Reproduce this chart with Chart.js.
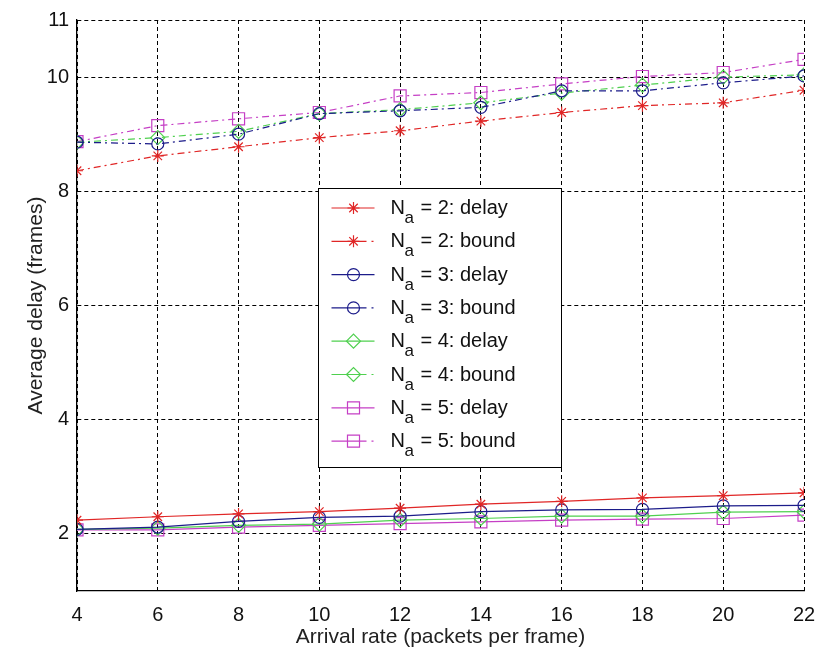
<!DOCTYPE html>
<html>
<head>
<meta charset="utf-8">
<script src="https://cdn.jsdelivr.net/npm/chart.js@4/dist/chart.umd.min.js"></script>
<style>
  html, body { margin: 0; padding: 0; background: #fff; }
  #wrap { width: 815px; height: 653px; position: relative; }
</style>
</head>
<body>
<div id="wrap"><canvas id="c"></canvas></div>
<script>
// Arrival rate (packets per frame)
const arrivalRates = [4, 6, 8, 10, 12, 14, 16, 18, 20, 22];
const yTickValues = [2, 4, 6, 8, 10, 11];

// Simulated average delay and analytical bound, per number of antennas N_a
const delayN2 = [2.24, 2.30, 2.35, 2.39, 2.45, 2.52, 2.57, 2.63, 2.67, 2.72];
const boundN2 = [8.36, 8.62, 8.78, 8.94, 9.06, 9.23, 9.38, 9.50, 9.55, 9.77];
const delayN3 = [2.08, 2.12, 2.22, 2.29, 2.31, 2.39, 2.42, 2.43, 2.49, 2.50];
const boundN3 = [8.86, 8.83, 9.00, 9.36, 9.41, 9.47, 9.76, 9.76, 9.90, 10.02];
const delayN4 = [2.08, 2.10, 2.15, 2.17, 2.24, 2.27, 2.31, 2.31, 2.38, 2.39];
const boundN4 = [8.86, 8.94, 9.05, 9.36, 9.43, 9.55, 9.72, 9.86, 10.00, 10.04];
const delayN5 = [2.07, 2.07, 2.12, 2.15, 2.18, 2.21, 2.24, 2.26, 2.27, 2.33];
const boundN5 = [8.87, 9.15, 9.27, 9.38, 9.67, 9.73, 9.88, 10.01, 10.08, 10.31];

const seriesNa = ['2', '2', '3', '3', '4', '4', '5', '5'];
const seriesKind = ['delay', 'bound', 'delay', 'bound', 'delay', 'bound', 'delay', 'bound'];
const seriesValues = [delayN2, boundN2, delayN3, boundN3, delayN4, boundN4, delayN5, boundN5];

const colors = { '2': '#e02626', '3': '#1c1c8a', '4': '#4fd04f', '5': '#c53fc5' };
const markers = { '2': 'star', '3': 'circle', '4': 'rectRot', '5': 'rect' };
const markerRadius = { '2': 6, '3': 6, '4': 7, '5': 8.5 };
const dashDot = [7, 4, 2, 4];
const gridDash = [4, 3];

const FONT = "'Liberation Sans', Arial, Helvetica, sans-serif";

const datasets = seriesValues.map((vals, i) => {
  const n = seriesNa[i];
  const bound = seriesKind[i] === 'bound';
  return {
    label: 'N_a = ' + n + ': ' + seriesKind[i],
    data: arrivalRates.map((x, j) => ({ x: x, y: vals[j] })),
    borderColor: colors[n],
    backgroundColor: 'rgba(0,0,0,0)',
    borderWidth: 1.2,
    borderDash: bound ? dashDot : [],
    pointStyle: markers[n],
    pointRadius: markerRadius[n],
    pointBorderColor: colors[n],
    pointBackgroundColor: 'rgba(0,0,0,0)',
    pointBorderWidth: 1.2,
    tension: 0,
    fill: false
  };
});

// Boxed legend with subscripted N_a, drawn inside the plot area
const boxLegend = {
  id: 'boxLegend',
  afterDatasetsDraw(chart) {
    const ctx = chart.ctx;
    const xs = chart.scales.x;
    const left = Math.round(xs.getPixelForValue(10)) - 0.5;
    const right = Math.round(xs.getPixelForValue(16)) - 0.5;
    const top = 188.5, bottom = 467.5;
    ctx.save();
    ctx.fillStyle = '#fff';
    ctx.fillRect(left, top, right - left, bottom - top);
    ctx.strokeStyle = '#000';
    ctx.lineWidth = 1;
    ctx.setLineDash([]);
    ctx.strokeRect(left, top, right - left, bottom - top);
    const rowH = 33.3;
    datasets.forEach((ds, i) => {
      const y = 208 + i * rowH;
      const bound = seriesKind[i] === 'bound';
      ctx.strokeStyle = ds.borderColor;
      ctx.lineWidth = 1.2;
      ctx.beginPath();
      if (bound) {
        ctx.moveTo(left + 13, y); ctx.lineTo(left + 48, y);
        ctx.moveTo(left + 53, y); ctx.lineTo(left + 55, y);
      } else {
        ctx.moveTo(left + 13, y); ctx.lineTo(left + 56, y);
      }
      ctx.stroke();
      ctx.fillStyle = 'rgba(0,0,0,0)';
      Chart.helpers.drawPoint(ctx, {
        pointStyle: ds.pointStyle, radius: ds.pointRadius, borderWidth: 1.2, rotation: 0
      }, left + 35, y);
      ctx.fillStyle = '#111';
      ctx.textBaseline = 'alphabetic';
      ctx.textAlign = 'left';
      ctx.font = '20px ' + FONT;
      ctx.fillText('N', left + 72, y + 6);
      ctx.font = '17px ' + FONT;
      ctx.fillText('a', left + 86, y + 15);
      ctx.font = '20px ' + FONT;
      ctx.fillText('= ' + seriesNa[i] + ': ' + seriesKind[i], left + 102, y + 6);
    });
    ctx.restore();
  }
};

new Chart(document.getElementById('c'), {
  type: 'line',
  data: { datasets: datasets },
  plugins: [boxLegend],
  options: {
    responsive: true,
    maintainAspectRatio: false,
    animation: false,
    layout: { padding: { top: 19, right: 0, left: 0, bottom: 0 } },
    plugins: { legend: { display: false }, tooltip: { enabled: false } },
    scales: {
      x: {
        type: 'linear',
        min: 4, max: 22,
        ticks: { stepSize: 2, color: '#111', font: { family: FONT, size: 20 }, padding: 12, maxRotation: 0 },
        grid: { color: '#000', lineWidth: 1, drawTicks: false },
        border: { display: true, color: '#000', width: 1.3, dash: gridDash },
        title: { display: true, text: 'Arrival rate (packets per frame)', color: '#222',
                 font: { family: FONT, size: 21 }, padding: { top: 0, bottom: 3 } },
        afterFit(scale) {
          scale.height = 62;
          scale.paddingLeft = 0;
          scale.paddingRight = 11;
        }
      },
      y: {
        type: 'linear',
        min: 1, max: 11,
        afterBuildTicks(scale) { scale.ticks = yTickValues.map(v => ({ value: v })); },
        ticks: { color: '#111', font: { family: FONT, size: 20 }, padding: 8 },
        grid: { color: '#000', lineWidth: 1, drawTicks: false },
        border: { display: true, color: '#000', width: 1.3, dash: gridDash },
        title: { display: true, text: 'Average delay (frames)', color: '#222',
                 font: { family: FONT, size: 21 }, padding: { top: 24, bottom: 0 } },
        afterFit(scale) { scale.width = 77; }
      }
    }
  }
});
</script>
</body>
</html>
